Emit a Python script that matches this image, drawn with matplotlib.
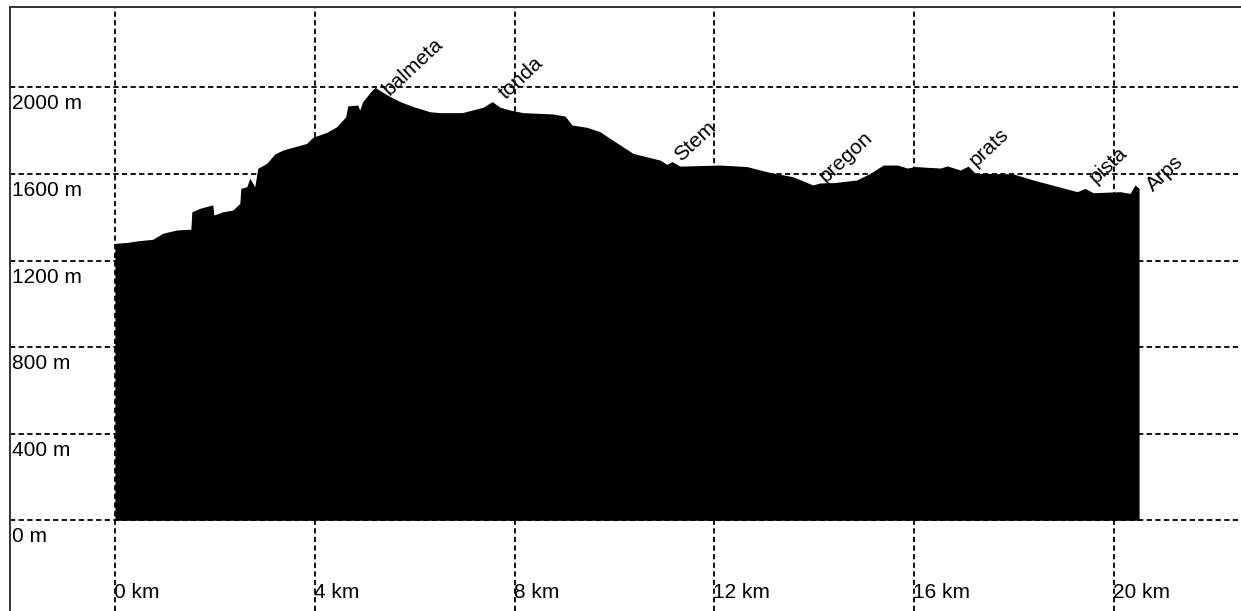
import matplotlib
matplotlib.use("Agg")
import matplotlib.pyplot as plt

plt.rcParams["font.family"] = ["Liberation Sans", "DejaVu Sans"]
plt.rcParams["lines.scale_dashes"] = False

# profile: distance (km) and elevation (m)
dist_km = [
    0.00, 0.26, 0.46, 0.76, 0.96, 1.24, 1.46, 1.52, 1.54, 1.70, 1.94, 1.96,
    1.98, 2.16, 2.36, 2.50, 2.52, 2.64, 2.70, 2.80, 2.86, 3.04, 3.20, 3.36,
    3.56, 3.84, 3.96, 4.24, 4.44, 4.62, 4.66, 4.86, 4.90, 4.96, 5.15, 5.21,
    5.31, 5.51, 5.71, 5.97, 6.31, 6.51, 6.95, 7.37, 7.55, 7.71, 7.91, 8.17,
    8.77, 9.01, 9.15, 9.45, 9.71, 9.91, 10.11, 10.37, 10.91, 11.05, 11.15,
    11.31, 12.11, 12.65, 13.05, 13.57, 13.97, 14.11, 14.41, 14.85, 15.12,
    15.38, 15.66, 15.86, 16.02, 16.52, 16.66, 16.92, 17.08, 17.22, 17.98,
    18.38, 19.26, 19.42, 19.58, 20.12, 20.32, 20.42, 20.50,
]
elev_m = [
    1279, 1284, 1291, 1298, 1326, 1341, 1344, 1344, 1425, 1441, 1456, 1456,
    1410, 1425, 1433, 1464, 1533, 1541, 1580, 1541, 1626, 1649, 1692, 1710,
    1723, 1741, 1769, 1792, 1818, 1864, 1914, 1918, 1895, 1934, 1988, 2000,
    1984, 1957, 1934, 1911, 1887, 1883, 1883, 1908, 1934, 1908, 1895, 1883,
    1877, 1867, 1826, 1815, 1795, 1764, 1734, 1695, 1664, 1644, 1657,
    1636, 1641, 1634, 1610, 1587, 1549, 1558, 1560, 1572, 1603,
    1641, 1641, 1627, 1634, 1627, 1637, 1618, 1636, 1603, 1600,
    1572, 1518, 1533, 1513, 1518, 1510, 1549, 1533,
]

# waypoints
wpt_names = ["balmeta", "tonda", "Stem", "pregon", "prats", "pista", "Arps"]
wpt_km = [5.49, 7.83, 11.33, 14.23, 17.24, 19.64, 20.78]
wpt_elev = [1960, 1942, 1655, 1558, 1632, 1553, 1517]

x_ticks = [0, 4, 8, 12, 16, 20]
y_ticks = [0, 400, 800, 1200, 1600, 2000]

fig = plt.figure(figsize=(12.41, 6.11), dpi=100)
ax = fig.add_axes([10 / 1241, 0, 1231 / 1241, 604 / 611])
ax.set_xlim(-2.10, 22.54)
ax.set_ylim(-419, 2371)

ax.fill_between(dist_km, 0, elev_m, color="black", linewidth=0, zorder=3)

ax.set_xticks(x_ticks)
ax.set_yticks(y_ticks)
ax.tick_params(length=0, labelbottom=False, labelleft=False)
ax.grid(True, color="black", linewidth=1.3, linestyle=(0, (3.8, 2.4)), zorder=1)
ax.set_axisbelow(True)

for side in ["bottom", "right"]:
    ax.spines[side].set_visible(False)
for side in ["left", "top"]:
    ax.spines[side].set_color("#333333")
    ax.spines[side].set_linewidth(1.4)

for v in y_ticks:
    ax.annotate(f"{v} m", xy=(0, v), xycoords=("axes fraction", "data"),
                xytext=(2, -7), textcoords="offset pixels",
                ha="left", va="top", fontsize=15)

for k in x_ticks:
    ax.annotate(f"{k} km", xy=(k, 0), xycoords=("data", "axes fraction"),
                xytext=(-1, 9), textcoords="offset pixels",
                ha="left", va="bottom", fontsize=15)

for name, k, e in zip(wpt_names, wpt_km, wpt_elev):
    ax.text(k, e, name, rotation=43, rotation_mode="anchor",
            ha="left", va="baseline", fontsize=15, zorder=4)

fig.savefig("out.png", dpi=100)
